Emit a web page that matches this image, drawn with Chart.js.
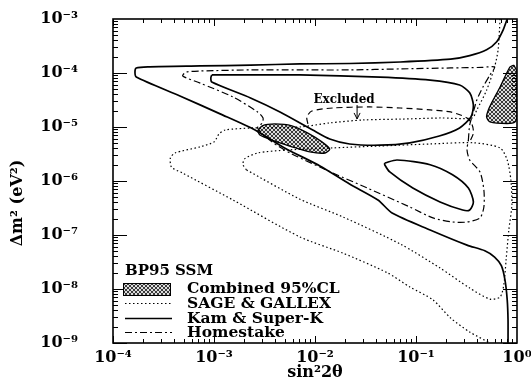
<!DOCTYPE html>
<html>
<head>
<meta charset="utf-8">
<script src="https://cdn.jsdelivr.net/npm/chart.js@4.4.1/dist/chart.umd.min.js"></script>
<style>
  html, body { margin: 0; padding: 0; background: #fff; }
  #wrap { width: 531px; height: 384px; position: relative; }
</style>
</head>
<body>
<div id="wrap"><canvas id="c"></canvas></div>
<script>
// Axis decades and their labels
const xDecades = [1e-4, 1e-3, 1e-2, 1e-1, 1];
const xTickLabels = ['10⁻⁴', '10⁻³', '10⁻²', '10⁻¹', '10⁰'];
const yDecades = [1e-9, 1e-8, 1e-7, 1e-6, 1e-5, 1e-4, 1e-3];
const yTickLabels = ['10⁻⁹', '10⁻⁸', '10⁻⁷', '10⁻⁶', '10⁻⁵', '10⁻⁴', '10⁻³'];

const seriesNames = ['Combined 95%CL', 'SAGE & GALLEX', 'Kam & Super-K', 'Homestake'];
const modelName = 'BP95 SSM';
const xTitle = 'sin²2θ';
const yTitle = 'Δm² (eV²)';
const excludedText = 'Excluded';

// Contours, as [sin²2θ, Δm² (eV²)] pairs
const combinedSMA = [[2.7e-3,8.4e-6],[3.0e-3,1.05e-5],[4.0e-3,1.14e-5],[5.9e-3,1.05e-5],[8.5e-3,7.7e-6],
  [0.0117,5.3e-6],[0.014,3.9e-6],[0.0126,3.3e-6],[8.9e-3,3.45e-6],[5.9e-3,4.3e-6],[3.75e-3,5.7e-6],
  [2.85e-3,7.1e-6],[2.7e-3,8.4e-6]];
const combinedLMA = [[0.93,1.4e-4],[1.0,1.04e-4],[1.0,1.67e-5],[0.955,1.24e-5],[0.80,1.16e-5],[0.54,1.24e-5],
  [0.50,1.53e-5],[0.52,2.07e-5],[0.58,3.16e-5],[0.68,5.5e-5],[0.85,1.29e-4],[0.93,1.4e-4]];

const sageOuter = [[0.68,1.0e-3],[0.65,2.7e-4],[0.60,1.3e-4],[0.50,4.8e-5],[0.40,2.07e-5],[0.36,1.47e-5],
  [0.173,1.47e-5],[0.070,1.4e-5],[0.030,1.35e-5],[0.014,1.19e-5],[7.1e-3,1.0e-5],[2.4e-3,9.6e-6],
  [1.29e-3,8.8e-6],[1.12e-3,7.4e-6],[1.0e-3,5.3e-6],[7.3e-4,4.3e-6],[4.1e-4,3.3e-6],[3.7e-4,2.67e-6],
  [3.8e-4,1.8e-6],[4.9e-4,1.4e-6],[1.54e-3,4.45e-7],[7.1e-3,9.2e-8],[0.019,4.6e-8],[0.052,2.0e-8],
  [0.087,1.09e-8],[0.147,6.3e-9],[0.22,2.9e-9],[0.34,1.6e-9],[0.54,1.0e-9]];
const sageInner = [[2.1e-3,1.6e-6],[7.1e-3,4.6e-7],[0.019,2.15e-7],[0.070,6.8e-8],[0.173,2.45e-8],
  [0.34,1.04e-8],[0.54,6.5e-9],[0.68,7.1e-9],[0.74,1.19e-8],[0.78,3.45e-8],[0.83,1.24e-7],[0.89,3.6e-7],
  [0.87,1.04e-6],[0.80,2.45e-6],[0.68,4.1e-6],[0.37,5.1e-6],[0.138,4.85e-6],[0.044,4.45e-6],
  [0.015,4.1e-6],[5.3e-3,3.75e-6],[2.7e-3,3.3e-6],[2.0e-3,2.55e-6],[1.94e-3,2.0e-6],[2.1e-3,1.6e-6]];

const kamOuter = [[0.80,1.0e-3],[0.73,6.3e-4],[0.63,3.8e-4],[0.50,2.7e-4],[0.34,2.1e-4],[0.22,1.8e-4],
  [0.070,1.6e-4],[0.022,1.5e-4],[7.1e-3,1.47e-4],[2.3e-3,1.4e-4],[7.3e-4,1.35e-4],[2.3e-4,1.3e-4],
  [1.7e-4,1.24e-4],[1.65e-4,1.04e-4],[1.7e-4,8.4e-5],[4.6e-4,3.75e-5],[1.15e-3,1.75e-5],[2.55e-3,8.8e-6],
  [5.0e-3,4.1e-6],[0.0112,1.9e-6],[0.022,8.8e-7],[0.042,4.45e-7],[0.058,2.55e-7],[0.138,1.24e-7],
  [0.32,6.5e-8],[0.48,5.1e-8],[0.60,3.9e-8],[0.70,2.7e-8],[0.76,1.47e-8],[0.80,6.3e-9],[0.815,2.7e-9],
  [0.815,1.0e-9]];
const kamInner = [[9.5e-4,9.2e-5],[1.8e-3,9.2e-5],[7.1e-3,9.2e-5],[0.044,8.4e-5],[0.138,7.4e-5],[0.27,6.0e-5],
  [0.34,4.3e-5],[0.37,2.55e-5],[0.35,1.53e-5],[0.27,9.6e-6],[0.17,6.8e-6],[0.087,5.1e-6],[0.044,4.6e-6],
  [0.022,4.85e-6],[0.014,6.0e-6],[9.5e-3,8.8e-6],[4.5e-3,1.9e-5],[2.3e-3,3.45e-5],[9.5e-4,6.8e-5],
  [9.3e-4,8.1e-5],[9.5e-4,9.2e-5]];
const kamIsland = [[0.049,2.15e-6],[0.065,2.45e-6],[0.138,2.0e-6],[0.23,1.3e-6],[0.33,7.4e-7],[0.37,4.1e-7],
  [0.34,2.9e-7],[0.29,2.9e-7],[0.173,4.1e-7],[0.093,7.4e-7],[0.055,1.47e-6],[0.049,2.0e-6],[0.049,2.15e-6]];

const homestake = [[0.33,5.7e-6],[0.34,1.09e-5],[0.37,1.9e-5],[0.40,3.16e-5],[0.46,5.5e-5],[0.54,9.2e-5],
  [0.60,1.29e-4],[0.45,1.27e-4],[0.22,1.24e-4],[0.070,1.19e-4],[0.022,1.14e-4],[7.1e-3,1.14e-4],
  [2.3e-3,1.14e-4],[7.3e-4,1.09e-4],[5.3e-4,1.04e-4],[4.9e-4,8.8e-5],[7.3e-4,6.5e-5],[1.54e-3,3.6e-5],
  [2.7e-3,1.9e-5],[3.06e-3,1.47e-5],[3.0e-3,1.19e-5],[2.7e-3,9.6e-6],[3.75e-3,5.3e-6],[5.65e-3,3.3e-6],
  [0.015,1.41e-6],[0.033,7.4e-7],[0.087,3.3e-7],[0.147,2.07e-7],[0.23,1.74e-7],[0.32,1.74e-7],
  [0.43,2.07e-7],[0.47,3.3e-7],[0.47,6.8e-7],[0.43,1.47e-6],[0.34,2.45e-6],[0.32,3.75e-6],[0.33,5.7e-6]];

// Day-night excluded zone boundary, its label and pointer
const excludedEdge = [[8.5e-3,1.14e-5],[8.3e-3,1.53e-5],[9.3e-3,1.98e-5],[0.015,2.25e-5],[0.035,2.35e-5],
  [0.070,2.25e-5],[0.138,2.07e-5],[0.22,1.9e-5],[0.32,1.47e-5],[0.36,1.09e-5],[0.37,7.7e-6],[0.34,5.3e-6]];
const excludedLabelAt = [0.0194, 3.16e-5];
const excludedArrow = [[0.0261, 2.55e-5], [0.0261, 1.41e-5]];

const SERIF = "'DejaVu Serif', 'Liberation Serif', serif";

// Fine cross-hatch used for the combined allowed regions
function hatchPattern() {
  const t = document.createElement('canvas');
  t.width = 4; t.height = 4;
  const g = t.getContext('2d');
  g.fillStyle = '#dcdcdc';
  g.fillRect(0, 0, 4, 4);
  g.fillStyle = '#3a3a3a';
  [[0,0],[1,1],[2,2],[3,3],[3,0],[2,1],[1,2],[0,3]].forEach(([i, j]) => g.fillRect(i, j, 1, 1));
  return g.createPattern(t, 'repeat');
}
const hatch = hatchPattern();

const styles = {
  combined: { borderColor: '#000', borderWidth: 1.3, borderDash: [], backgroundColor: hatch, fill: 'shape' },
  sage: { borderColor: '#000', borderWidth: 1.2, borderDash: [1.5, 2.5], fill: false },
  kam: { borderColor: '#000', borderWidth: 1.7, borderDash: [], fill: false },
  homestake: { borderColor: '#000', borderWidth: 1.2, borderDash: [7, 3, 2, 3], fill: false },
  excluded: { borderColor: '#000', borderWidth: 1.2, borderDash: [6, 4], fill: false }
};

function contour(label, points, style, legendRow, order) {
  return Object.assign({
    label,
    data: points.map(([x, y]) => ({ x, y })),
    showLine: true,
    pointRadius: 0,
    pointHoverRadius: 0,
    tension: 0.25,
    order,
    legendRow
  }, style);
}

const datasets = [
  contour(seriesNames[0], combinedSMA, styles.combined, 0, 5),
  contour(seriesNames[0], combinedLMA, styles.combined, -1, 5),
  contour(seriesNames[1], sageOuter, styles.sage, 1, 1),
  contour(seriesNames[1], sageInner, styles.sage, -1, 1),
  contour(seriesNames[2], kamOuter, styles.kam, 2, 0),
  contour(seriesNames[2], kamInner, styles.kam, -1, 0),
  contour(seriesNames[2], kamIsland, styles.kam, -1, 0),
  contour(seriesNames[3], homestake, styles.homestake, 3, 1),
  contour(excludedText, excludedEdge, styles.excluded, -1, 1)
];

// Frame, inward log ticks, legend block and annotations
const overlay = {
  id: 'overlay',
  afterDatasetsDraw(chart) {
    const { ctx, chartArea: a, scales: { x, y } } = chart;
    ctx.save();
    ctx.strokeStyle = '#000';
    ctx.lineWidth = 1;
    ctx.beginPath();
    for (let e = -4; e < 0; e++) {
      for (let m = 1; m < 10; m++) {
        const px = Math.round(x.getPixelForValue(m * Math.pow(10, e))) + 0.5;
        const len = m === 1 ? 7 : 4;
        ctx.moveTo(px, a.bottom); ctx.lineTo(px, a.bottom - len);
        ctx.moveTo(px, a.top); ctx.lineTo(px, a.top + len);
      }
    }
    for (let e = -9; e < -3; e++) {
      for (let m = 1; m < 10; m++) {
        const py = Math.round(y.getPixelForValue(m * Math.pow(10, e))) + 0.5;
        const len = m === 1 ? 14 : 5;
        ctx.moveTo(a.left, py); ctx.lineTo(a.left + len, py);
        ctx.moveTo(a.right, py); ctx.lineTo(a.right - len, py);
      }
    }
    ctx.stroke();
    ctx.lineWidth = 1.6;
    ctx.strokeRect(a.left, a.top, a.right - a.left, a.bottom - a.top);

    // "Excluded" label and pointer
    ctx.fillStyle = '#000';
    ctx.font = 'bold 12px ' + SERIF;
    ctx.textAlign = 'center';
    ctx.textBaseline = 'middle';
    ctx.fillText(excludedText, x.getPixelForValue(excludedLabelAt[0]), y.getPixelForValue(excludedLabelAt[1]));
    const ax = x.getPixelForValue(excludedArrow[0][0]);
    const ay0 = y.getPixelForValue(excludedArrow[0][1]);
    const ay1 = y.getPixelForValue(excludedArrow[1][1]);
    ctx.lineWidth = 1;
    ctx.setLineDash([]);
    ctx.beginPath();
    ctx.moveTo(ax, ay0); ctx.lineTo(ax, ay1);
    ctx.moveTo(ax - 3, ay1 - 6); ctx.lineTo(ax, ay1); ctx.lineTo(ax + 3, ay1 - 6);
    ctx.stroke();

    // legend block
    ctx.textAlign = 'left';
    ctx.font = 'bold 15px ' + SERIF;
    ctx.fillText(modelName, 125, 271);
    const rowsY = [289, 304, 319, 333];
    chart.data.datasets.forEach(ds => {
      if (ds.legendRow < 0) return;
      const ry = rowsY[ds.legendRow];
      ctx.save();
      if (ds.fill === 'shape') {
        ctx.fillStyle = ds.backgroundColor;
        ctx.fillRect(123, ry - 6, 47, 12);
        ctx.lineWidth = 1;
        ctx.strokeStyle = '#000';
        ctx.strokeRect(123.5, ry - 5.5, 47, 12);
      } else {
        ctx.strokeStyle = ds.borderColor;
        ctx.lineWidth = ds.borderWidth;
        ctx.setLineDash(ds.borderDash);
        ctx.beginPath();
        ctx.moveTo(125, ry - 0.5); ctx.lineTo(172, ry - 0.5);
        ctx.stroke();
      }
      ctx.restore();
      ctx.fillStyle = '#000';
      ctx.font = 'bold 15.5px ' + SERIF;
      ctx.fillText(ds.label, 187, ry);
    });

    // vertical axis title
    ctx.save();
    ctx.translate(18, (a.top + a.bottom) / 2 + 22);
    ctx.rotate(-Math.PI / 2);
    ctx.textAlign = 'center';
    ctx.font = 'bold 16px ' + SERIF;
    ctx.fillText(yTitle, 0, 0);
    ctx.restore();
    ctx.restore();
  }
};

new Chart(document.getElementById('c'), {
  type: 'scatter',
  data: { datasets },
  options: {
    responsive: true,
    maintainAspectRatio: false,
    devicePixelRatio: 1,
    animation: false,
    events: [],
    layout: { padding: { left: 0, right: 14, top: 19, bottom: 0 } },
    plugins: { legend: { display: false }, tooltip: { enabled: false } },
    scales: {
      x: {
        type: 'logarithmic',
        min: xDecades[0],
        max: xDecades[xDecades.length - 1],
        grid: { display: false },
        border: { display: false },
        afterBuildTicks: s => { s.ticks = xDecades.map(v => ({ value: v, major: true })); },
        afterFit: s => { s.height = 41; s.paddingLeft = 0; s.paddingRight = 0; },
        ticks: {
          autoSkip: false,
          maxRotation: 0,
          padding: -3,
          color: '#000',
          font: { family: SERIF, size: 16, weight: 'bold' },
          callback: (v, i) => xTickLabels[i]
        },
        title: {
          display: true,
          text: xTitle,
          color: '#000',
          font: { family: SERIF, size: 16, weight: 'bold' },
          padding: { top: 0, bottom: 2 }
        }
      },
      y: {
        type: 'logarithmic',
        min: yDecades[0],
        max: yDecades[yDecades.length - 1],
        grid: { display: false },
        border: { display: false },
        afterBuildTicks: s => { s.ticks = yDecades.map(v => ({ value: v, major: true })); },
        afterFit: s => { s.width = 113; s.paddingTop = 0; s.paddingBottom = 0; },
        ticks: {
          autoSkip: false,
          padding: 27,
          color: '#000',
          font: { family: SERIF, size: 16, weight: 'bold' },
          callback: (v, i) => yTickLabels[i]
        }
      }
    }
  },
  plugins: [overlay]
});
</script>
</body>
</html>
